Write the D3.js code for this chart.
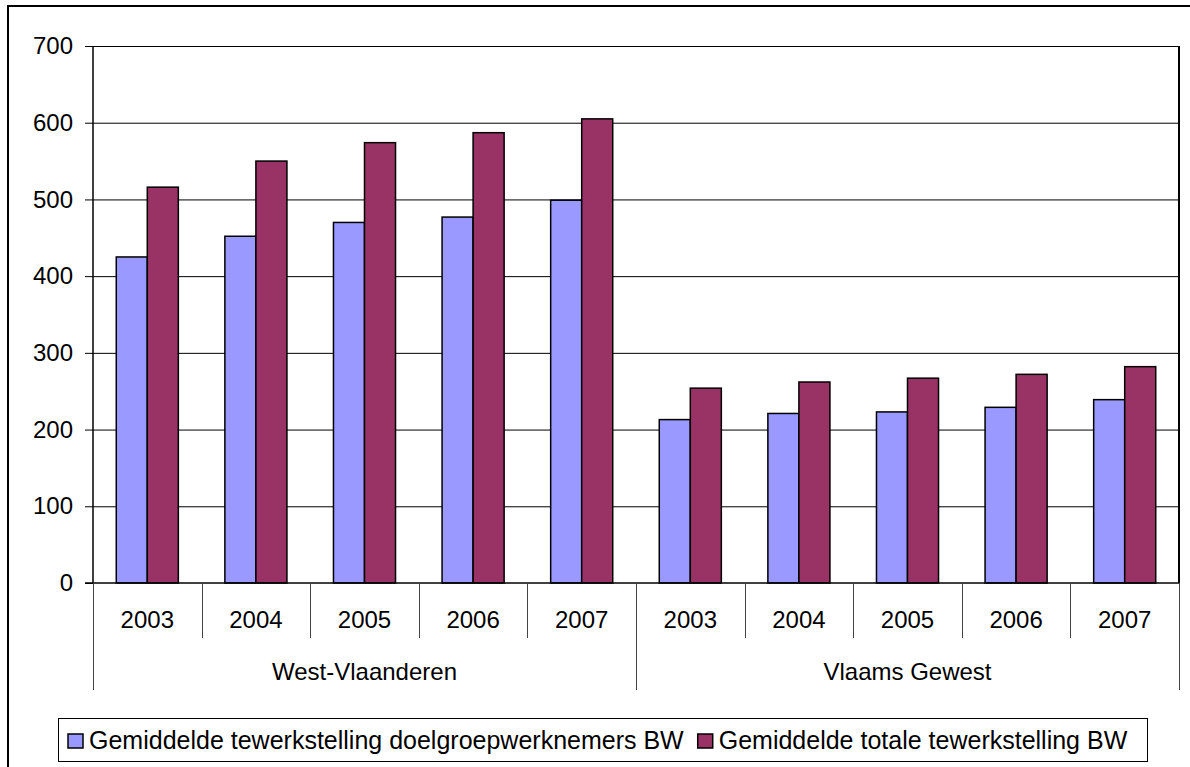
<!DOCTYPE html>
<html>
<head>
<meta charset="utf-8">
<script src="https://cdn.jsdelivr.net/npm/d3@7"></script>
<style>
  body { margin: 0; background: #fff; }
  svg { display: block; font-family: "Liberation Sans", Arial, sans-serif; }
</style>
</head>
<body>
<script>
// data
var groups = ["West-Vlaanderen", "Vlaams Gewest"];
var years = ["2003", "2004", "2005", "2006", "2007"];
var doelgroep = [425, 452, 470, 477, 499, 213, 221, 223, 229, 239];
var totaal = [516, 550, 574, 587, 605, 254, 262, 267, 272, 282];
var seriesNames = ["Gemiddelde tewerkstelling doelgroepwerknemers BW", "Gemiddelde totale tewerkstelling BW"];
var seriesColors = ["#9999ff", "#993366"];
var yTicks = [0, 100, 200, 300, 400, 500, 600, 700];

var W = 1190, H = 767;
var plot = { left: 93, right: 1179, top: 46, bottom: 583 };

var svg = d3.select("body").append("svg").attr("width", W).attr("height", H);

// outer frame (runs off the right/bottom edge)
svg.append("rect").attr("x", 8).attr("y", 6).attr("width", 1300).attr("height", 900)
  .attr("fill", "none").attr("stroke", "#000").attr("stroke-width", 2);

var cats = [];
groups.forEach(function (g, gi) {
  years.forEach(function (yr) { cats.push({ key: g + "|" + yr, group: g, gi: gi, year: yr }); });
});
cats.forEach(function (c, i) { c.vals = [doelgroep[i], totaal[i]]; });

var x = d3.scaleBand().domain(cats.map(function (c) { return c.key; }))
  .range([plot.left, plot.right]).padding(0);
var xs = d3.scaleBand().domain([0, 1]).range([0, x.bandwidth()])
  .paddingInner(0).paddingOuter(0.75);
var y = d3.scaleLinear().domain([0, 700]).range([plot.bottom, plot.top]);

// gridlines
svg.append("g").selectAll("line").data(yTicks.slice(1)).join("line")
  .attr("x1", plot.left).attr("x2", plot.right)
  .attr("y1", function (d) { return y(d) + 0.5; }).attr("y2", function (d) { return y(d) + 0.5; })
  .attr("stroke", "#000").attr("stroke-width", 1);

// plot frame right side
svg.append("line").attr("x1", plot.right).attr("x2", plot.right)
  .attr("y1", plot.top).attr("y2", plot.bottom).attr("stroke", "#000").attr("stroke-width", 2);

// bars
var bars = svg.append("g");
cats.forEach(function (c) {
  c.vals.forEach(function (v, si) {
    bars.append("rect")
      .attr("x", x(c.key) + xs(si))
      .attr("y", y(v))
      .attr("width", xs.bandwidth())
      .attr("height", y(0) - y(v))
      .attr("fill", seriesColors[si])
      .attr("stroke", "#000").attr("stroke-width", 1.5);
  });
});

// y axis
var yAxis = d3.axisLeft(y).tickValues(yTicks).tickSize(8).tickPadding(12).tickFormat(d3.format("d"));
var ya = svg.append("g").attr("transform", "translate(" + plot.left + ",0)").call(yAxis);
ya.select(".domain").attr("stroke", "#000").attr("stroke-width", 1.5).attr("d", "M0," + plot.top + "V" + plot.bottom);
ya.selectAll(".tick line").attr("stroke", "#000");
ya.selectAll(".tick text").attr("font-size", 24).attr("fill", "#000")
  .attr("font-family", "Liberation Sans, Arial, sans-serif");

// x axis base line
svg.append("line").attr("x1", plot.left - 8).attr("x2", plot.right)
  .attr("y1", plot.bottom).attr("y2", plot.bottom).attr("stroke", "#000").attr("stroke-width", 1.5);

// category separators
var sep = svg.append("g").attr("stroke", "#444").attr("stroke-width", 1);
cats.forEach(function (c, i) {
  if (i === 0) return;
  var xx = Math.round(x(c.key)) + 0.5;
  var longLine = years.indexOf(c.year) === 0;
  sep.append("line").attr("x1", xx).attr("x2", xx)
    .attr("y1", plot.bottom).attr("y2", longLine ? 690 : 638);
});
[plot.left, plot.right].forEach(function (xx) {
  sep.append("line").attr("x1", xx + 0.5).attr("x2", xx + 0.5)
    .attr("y1", plot.bottom).attr("y2", 690);
});

// year labels
svg.append("g").selectAll("text").data(cats).join("text")
  .attr("x", function (c) { return x(c.key) + x.bandwidth() / 2; })
  .attr("y", 620).attr("dy", "0.35em").attr("text-anchor", "middle")
  .attr("font-size", 24).text(function (c) { return c.year; });

// group labels
svg.append("g").selectAll("text").data(groups).join("text")
  .attr("x", function (g, gi) {
    var first = x(groups[gi] + "|" + years[0]);
    var last = x(groups[gi] + "|" + years[years.length - 1]) + x.bandwidth();
    return (first + last) / 2;
  })
  .attr("y", 672).attr("dy", "0.35em").attr("text-anchor", "middle")
  .attr("font-size", 24).text(function (g) { return g; });

// legend
var lg = svg.append("g");
lg.append("rect").attr("x", 58.5).attr("y", 718.5).attr("width", 1089).attr("height", 43)
  .attr("fill", "#fff").attr("stroke", "#000").attr("stroke-width", 1);
var lx = 68;
seriesNames.forEach(function (name, si) {
  lg.append("rect").attr("x", lx).attr("y", 734).attr("width", 15).attr("height", 14)
    .attr("fill", seriesColors[si]).attr("stroke", "#000").attr("stroke-width", 1.5);
  var t = lg.append("text").attr("x", lx + 21).attr("y", 740).attr("dy", "0.35em")
    .attr("font-size", 25).text(name);
  lx = lx + 21 + t.node().getComputedTextLength() + 14;
});
</script>
</body>
</html>
